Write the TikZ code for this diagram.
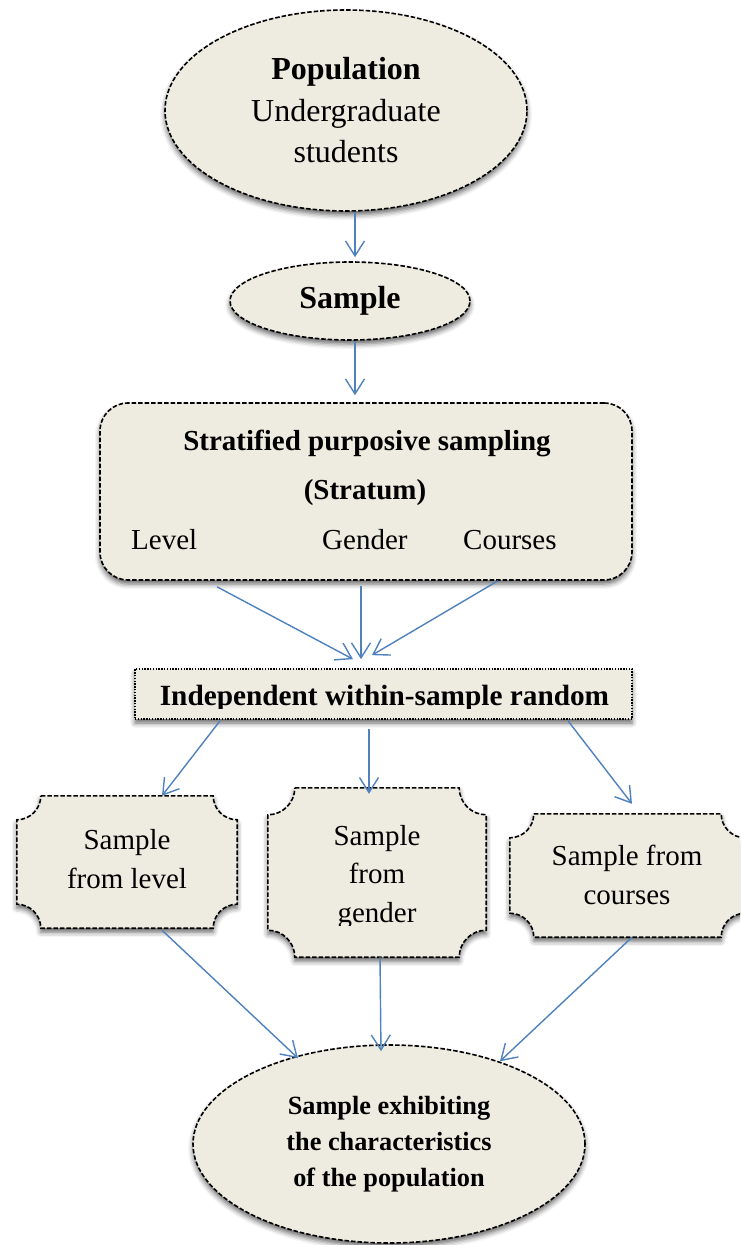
\documentclass[tikz,border=0pt]{standalone}
\usepackage{fontspec}
\setmainfont{Liberation Serif}
\usetikzlibrary{arrows.meta,shapes.geometric,shadows.blur,calc}

\definecolor{panelfill}{HTML}{EEECE1}
\definecolor{linkblue}{HTML}{4F81BD}

% box with concave (scooped) corners around a named node
\newcommand\plaquebox[2]{%
  \path[panel] let \p1=(#1.north west), \p2=(#1.south east) in
    (\x1+#2,\y1) -- (\x2-#2,\y1)
    arc[start angle=180,end angle=270,radius=#2]
    -- (\x2,\y2+#2)
    arc[start angle=90,end angle=180,radius=#2]
    -- (\x1+#2,\y2)
    arc[start angle=0,end angle=90,radius=#2]
    -- (\x1,\y1-#2)
    arc[start angle=270,end angle=360,radius=#2]
    -- cycle;}

\begin{document}
\begin{tikzpicture}[x=1pt,y=1pt,
  panel/.style={fill=panelfill, draw=black, line width=1.6pt,
    dash pattern=on 4.5pt off 2pt,
    blur shadow={shadow xshift=0pt, shadow yshift=-4pt,
      shadow blur radius=5pt, shadow opacity=60}},
  ovalnode/.style={panel, ellipse, inner sep=0pt, align=center},
  dotbox/.style={panel, rectangle, inner sep=0pt, dash pattern=on 1.4pt off 1.4pt, line width=1.7pt},
  slot/.style={rectangle, inner sep=0pt},
  label/.style={inner sep=0pt, align=center},
  fbig/.style={font=\fontsize{32}{41.5}\selectfont},
  fmid/.style={font=\fontsize{29}{38.5}\selectfont},
  fsmall/.style={font=\fontsize{26.3}{36}\selectfont\bfseries},
  flowarrow/.style={draw=linkblue, line width=1.4pt,
    -{Straight Barb[length=15pt,width=19pt]}}
]
\clip (0,0) rectangle (740,-1245);

% population and sample ovals
\node[ovalnode, fbig, minimum width=362pt, minimum height=201pt] (pop) at (346,-110.5)
  {\textbf{Population}\\Undergraduate\\students};
\node[ovalnode, fbig, minimum width=240pt, minimum height=78pt] (samp) at (350,-301)
  {\textbf{Sample}};

% stratified sampling panel
\node[panel, rectangle, rounded corners=28pt, inner sep=0pt,
  minimum width=532pt, minimum height=177pt] (strat) at (366,-491.5) {};
\node[label, fmid, anchor=base] (stitle) at (367,-450) {\textbf{Stratified purposive sampling}};
\node[label, fmid, anchor=base] (sstratum) at (365,-499) {\textbf{(Stratum)}};
\node[label, fmid, anchor=base west] (slevel) at (131,-549) {Level};
\node[label, fmid, anchor=base west] (sgender) at (322,-549) {Gender};
\node[label, fmid, anchor=base west] (scourses) at (463,-549) {Courses};

% random selection bar
\node[dotbox, minimum width=497pt, minimum height=50pt] (ind) at (383.5,-694) {};
\begin{scope}
  \clip (135,-669) rectangle (632,-708.5);
  \node[label, font=\fontsize{29.3}{34}\selectfont\bfseries, anchor=base] (indtxt)
    at (384.5,-705) {Independent within-sample random};
\end{scope}

% the three sub-samples
\node[slot, minimum width=220pt, minimum height=132pt] (lvl) at (127,-862) {};
\node[slot, minimum width=218pt, minimum height=169pt] (gen) at (377,-872.5) {};
\node[slot, minimum width=235pt, minimum height=123pt] (crs) at (627.5,-875.5) {};
\plaquebox{lvl}{24pt}
\plaquebox{gen}{27pt}
\plaquebox{crs}{24pt}
\node[label, fmid, font=\fontsize{29}{39}\selectfont] (lvltxt) at (127,-859) {Sample\\from level};
\begin{scope}
  \clip (268,-788) rectangle (486,-925.5);
  \node[label, fmid] (gentxt) at (377,-877) {Sample\\from\\gender};
\end{scope}
\node[label, fmid] (crstxt) at (627,-875) {Sample from\\courses};

% final sample oval
\node[ovalnode, fsmall, minimum width=392pt, minimum height=198pt] (fin) at (389,-1144)
  {Sample exhibiting\\the characteristics\\of the population};

% connectors
\draw[flowarrow] ([xshift=9pt]pop.south) -- ([xshift=5pt,yshift=4pt]samp.north);
\draw[flowarrow] ([xshift=5pt]samp.south) -- ([xshift=-11pt,yshift=7pt]strat.north);

\draw[flowarrow] ([xshift=-149pt,yshift=-6pt]strat.south) -- ([xshift=-30.5pt,yshift=9pt]ind.north);
\draw[flowarrow] ([xshift=-5pt,yshift=-5pt]strat.south) -- ([xshift=-22.5pt,yshift=9pt]ind.north);
\draw[flowarrow] ([xshift=132pt]strat.south) -- ([xshift=-11.5pt,yshift=13pt]ind.north);

\draw[flowarrow] ([xshift=-163.5pt,yshift=-1pt]ind.south) -- ([xshift=35pt]lvl.north);
\draw[flowarrow] ([xshift=-14.5pt,yshift=-9pt]ind.south) -- ([xshift=-8pt,yshift=-6pt]gen.north);
\draw[flowarrow] ([xshift=184.5pt,yshift=-1pt]ind.south) -- ([xshift=4.5pt,yshift=10pt]crs.north);

\draw[flowarrow] ([xshift=35pt,yshift=-2pt]lvl.south) -- ([xshift=-91pt,yshift=-14pt]fin.north);
\draw[flowarrow] ([xshift=3pt]gen.south) -- ([xshift=-8pt,yshift=-7pt]fin.north);
\draw[flowarrow] ([xshift=4.5pt]crs.south) -- ([xshift=111pt,yshift=-17pt]fin.north);
\end{tikzpicture}
\end{document}
